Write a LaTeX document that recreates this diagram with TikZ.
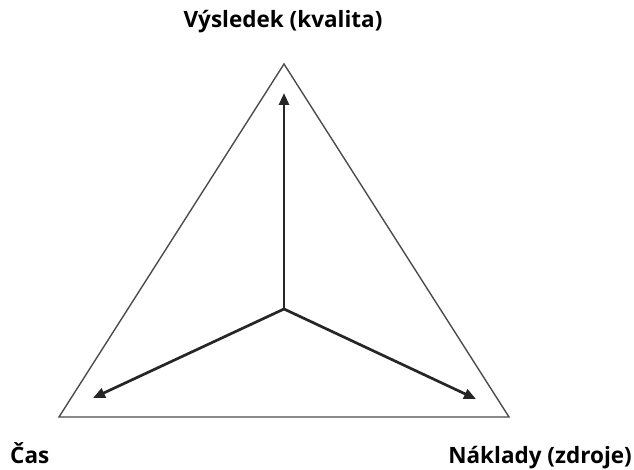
\documentclass[tikz,border=0pt]{standalone}
\usepackage{fontspec}
\setmainfont{Open Sans}
\usetikzlibrary{arrows.meta}
\begin{document}
\begin{tikzpicture}[x=1pt,y=-1pt,
  tri/.style={draw=black!70,line width=1.4pt,line join=miter},
  vec/.style={draw=black!85,line width=2.7pt,-{Triangle[length=12pt,width=10pt]}},
  lab/.style={font=\bfseries\fontsize{22.5}{26}\selectfont,inner sep=0pt}]
\useasboundingbox (0,0) rectangle (634,470);
\coordinate (A) at (284,64);
\coordinate (L) at (59,417);
\coordinate (R) at (509,417);
\coordinate (O) at (284,309);
\coordinate (tA) at (284,93);
\coordinate (tL) at (93,398);
\coordinate (tR) at (476,399);
\draw[tri] (A) -- (R) -- (L) -- cycle;
\draw[vec] (O) -- (tA);
\draw[vec] (O) -- (tL);
\draw[vec] (O) -- (tR);
\node[lab,anchor=base] (q) at (283,28) {Výsledek (kvalita)};
\node[lab,anchor=base west] (c) at (10,463) {Čas};
\node[lab,anchor=base east] (n) at (632,463) {Náklady (zdroje)};
\end{tikzpicture}
\end{document}
